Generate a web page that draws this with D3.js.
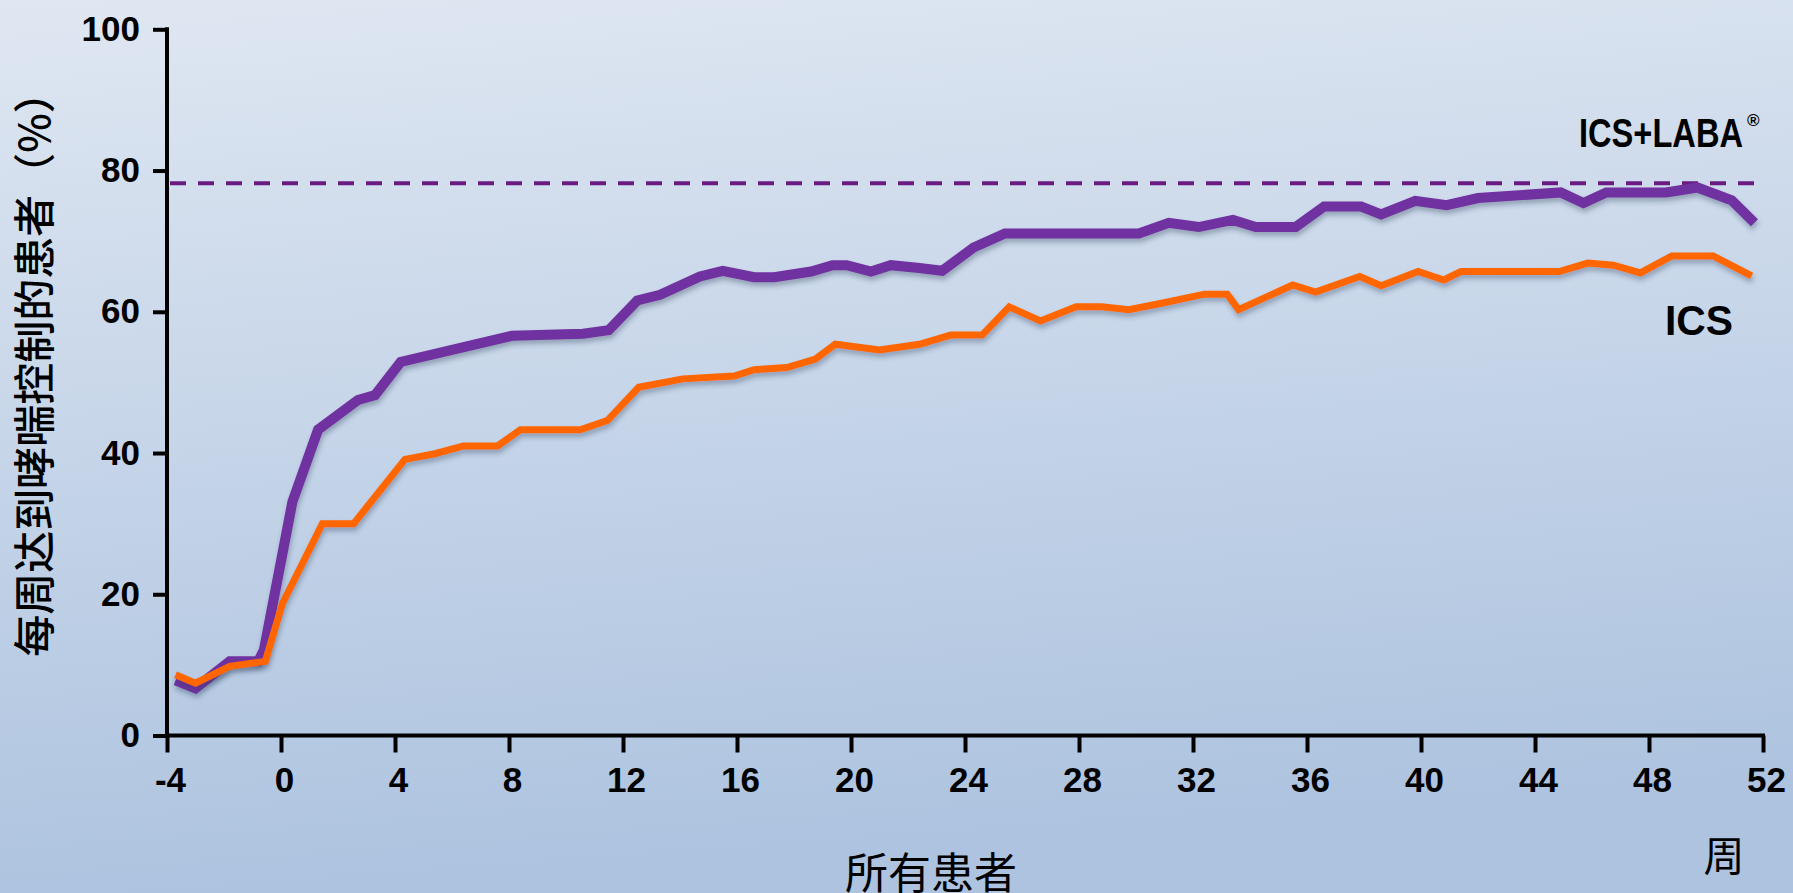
<!DOCTYPE html>
<html>
<head>
<meta charset="utf-8">
<script src="https://cdn.jsdelivr.net/npm/d3@7"></script>
<style>
    html, body { margin: 0; padding: 0; overflow: hidden; }
    svg { display: block; }
    .axis path, .axis line { stroke: #000; stroke-width: 4; }
    .axis text {
        font-family: "Liberation Sans", Arial, sans-serif;
        font-weight: bold;
        font-size: 35px;
        fill: #000;
    }
    .cjk {
        font-family: "Noto Sans CJK SC", sans-serif;
        fill: #000;
    }
    .series-label {
        font-family: "Liberation Sans", Arial, sans-serif;
        font-weight: bold;
        fill: #000;
    }
</style>
</head>
<body>
<svg id="chart" width="1793" height="893"></svg>
<script>
// Data
const WEEK_TICKS = [-4, 0, 4, 8, 12, 16, 20, 24, 28, 32, 36, 40, 44, 48, 52];
const PERCENT_TICKS = [0, 20, 40, 60, 80, 100];

const LABA_WEEKS = [-3.7, -3.0, -1.8, -0.8, -0.6, 0.4, 1.3, 2.7, 3.3, 4.2, 8.1, 10.6, 11.5, 12.5, 13.3,
    14.7, 15.5, 16.6, 17.3, 18.6, 19.35, 19.85, 20.7, 21.4, 22.4, 23.2, 24.3, 25.4, 30.1, 31.15,
    32.2, 33.4, 34.2, 35.6, 36.6, 37.9, 38.6, 39.8, 40.9, 42.0, 44.9, 45.7, 46.5, 48.6, 49.7,
    50.9, 51.7];
const LABA_VALUES = [7.8, 6.7, 10.5, 10.5, 12.1, 33.1, 43.3, 47.5, 48.2, 52.9, 56.6, 56.9, 57.4, 61.6, 62.4,
    65.0, 65.8, 64.9, 64.9, 65.7, 66.6, 66.6, 65.7, 66.6, 66.2, 65.8, 69.1, 71.1, 71.1, 72.6,
    72.0, 73.0, 72.0, 72.0, 74.9, 74.9, 73.8, 75.7, 75.1, 76.1, 76.9, 75.4, 76.9, 76.9, 77.6,
    75.8, 72.6];

const ICS_WEEKS = [-3.7, -3.0, -1.8, -0.55, 0.05, 1.45, 2.55, 4.35, 5.4, 6.4, 7.6, 8.4, 10.5, 11.45, 12.55,
    14.1, 15.9, 16.6, 17.75, 18.75, 19.45, 21.0, 22.4, 23.5, 24.6, 25.55, 26.65, 27.9, 28.8, 29.75,
    30.9, 32.4, 33.2, 33.6, 35.5, 36.3, 37.85, 38.6, 39.9, 40.8, 41.4, 44.85, 45.85, 46.75, 47.7,
    48.8, 50.25, 51.6];
const ICS_VALUES = [8.6, 7.4, 9.8, 10.5, 18.7, 30.0, 30.0, 39.1, 39.9, 41.0, 41.0, 43.3, 43.3, 44.6, 49.3,
    50.5, 50.9, 51.8, 52.1, 53.3, 55.4, 54.6, 55.4, 56.7, 56.7, 60.7, 58.7, 60.7, 60.7, 60.3,
    61.2, 62.5, 62.5, 60.3, 63.8, 62.8, 65.0, 63.7, 65.7, 64.5, 65.7, 65.7, 66.9, 66.6, 65.5,
    67.9, 67.9, 65.1];

const TARGET_LEVEL = 78.2;
const TARGET_END_WEEK = 51.7;

const Y_TITLE = "每周达到哮喘控制的患者（%）";
const X_TITLE = "所有患者";
const X_UNIT = "周";
const LABA_NAME = "ICS+LABA";
const ICS_NAME = "ICS";

const COLORS = { laba: "#7030a0", ics: "#ff6600", target: "#6a1b82" };

const svg = d3.select("#chart");
const width = 1793;
const height = 893;

// background gradient
const defs = svg.append("defs");
const bg = defs.append("linearGradient")
    .attr("id", "bg")
    .attr("x1", 0).attr("y1", 0)
    .attr("x2", 0.15).attr("y2", 1);
bg.append("stop").attr("offset", "0%").attr("stop-color", "#dfe7f2");
bg.append("stop").attr("offset", "100%").attr("stop-color", "#adc3df");

const shadow = defs.append("filter")
    .attr("id", "shadow")
    .attr("x", "-5%").attr("y", "-20%")
    .attr("width", "110%").attr("height", "140%");
shadow.append("feDropShadow")
    .attr("dx", 1)
    .attr("dy", 4)
    .attr("stdDeviation", 2.5)
    .attr("flood-color", "#2d3c5a")
    .attr("flood-opacity", 0.35);

svg.append("rect")
    .attr("width", width)
    .attr("height", height)
    .attr("fill", "url(#bg)");

// Scales
const xScale = d3.scaleLinear()
    .domain([-4, 52])
    .range([167, 1763]);

const yScale = d3.scaleLinear()
    .domain([0, 100])
    .range([735.5, 29.3]);

// Target dashed line
svg.append("line")
    .attr("x1", xScale(-4) + 3)
    .attr("x2", xScale(TARGET_END_WEEK))
    .attr("y1", yScale(TARGET_LEVEL))
    .attr("y2", yScale(TARGET_LEVEL))
    .attr("stroke", COLORS.target)
    .attr("stroke-width", 4)
    .attr("stroke-dasharray", "16 12");

// Series lines
const lineGenerator = d3.line()
    .x((d) => xScale(d[0]))
    .y((d) => yScale(d[1]));

const series = [
    { key: "laba", points: d3.zip(LABA_WEEKS, LABA_VALUES), width: 10 },
    { key: "ics", points: d3.zip(ICS_WEEKS, ICS_VALUES), width: 7 }
];

svg.append("g")
    .selectAll("path")
    .data(series)
    .enter()
    .append("path")
    .attr("d", (s) => lineGenerator(s.points))
    .attr("fill", "none")
    .attr("stroke", (s) => COLORS[s.key])
    .attr("stroke-width", (s) => s.width)
    .attr("stroke-linejoin", "miter")
    .attr("stroke-miterlimit", 2)
    .attr("filter", "url(#shadow)");

// Axes
const xAxis = d3.axisBottom(xScale)
    .tickValues(WEEK_TICKS)
    .tickFormat((d) => String(d))
    .tickSize(17)
    .tickSizeOuter(0)
    .tickPadding(15);

const yAxis = d3.axisLeft(yScale)
    .tickValues(PERCENT_TICKS)
    .tickSize(14)
    .tickSizeOuter(0)
    .tickPadding(13);

const xAxisGroup = svg.append("g")
    .attr("class", "axis")
    .attr("transform", "translate(0," + yScale(0) + ")")
    .call(xAxis);
xAxisGroup.selectAll("text").attr("dx", 3);
xAxisGroup.select(".domain").attr("d", "M" + (xScale(-4) - 2) + ",0H" + (xScale(52) + 2));

const yAxisGroup = svg.append("g")
    .attr("class", "axis")
    .attr("transform", "translate(" + xScale(-4) + ",0)")
    .call(yAxis);
yAxisGroup.select(".domain").attr("d", "M0," + (yScale(100) - 2) + "V" + (yScale(0) + 2));

// Titles
svg.append("text")
    .attr("class", "cjk")
    .attr("transform", "translate(50," + 364 + ") rotate(-90)")
    .attr("text-anchor", "middle")
    .style("font-size", "42px")
    .style("font-weight", 500)
    .text(Y_TITLE);

svg.append("text")
    .attr("class", "cjk")
    .attr("x", 931)
    .attr("y", 889)
    .attr("text-anchor", "middle")
    .style("font-size", "43px")
    .text(X_TITLE);

svg.append("text")
    .attr("class", "cjk")
    .attr("x", 1724)
    .attr("y", 871)
    .attr("text-anchor", "middle")
    .style("font-size", "41px")
    .text(X_UNIT);

// Series labels
svg.append("text")
    .attr("class", "series-label")
    .attr("x", 1579)
    .attr("y", 147)
    .style("font-size", "40px")
    .attr("textLength", 164)
    .attr("lengthAdjust", "spacingAndGlyphs")
    .text(LABA_NAME);

svg.append("text")
    .attr("class", "series-label")
    .attr("x", 1747)
    .attr("y", 126)
    .style("font-size", "17px")
    .text("®");

svg.append("text")
    .attr("class", "series-label")
    .attr("x", 1665)
    .attr("y", 335)
    .style("font-size", "42px")
    .attr("textLength", 68)
    .attr("lengthAdjust", "spacingAndGlyphs")
    .text(ICS_NAME);
</script>
</body>
</html>
